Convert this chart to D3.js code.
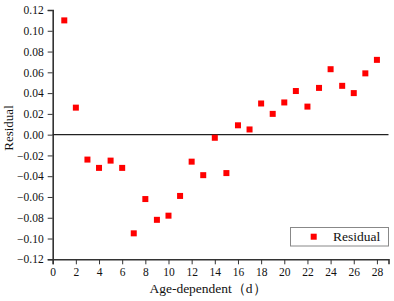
<!DOCTYPE html>
<html>
<head>
<meta charset="utf-8">
<script src="https://cdn.jsdelivr.net/npm/d3@7"></script>
<style>
body { margin: 0; background: #fff; }
svg text { font-family: "Liberation Serif", "Times New Roman", "DejaVu Serif", serif; fill: #111; }
</style>
</head>
<body>
<svg id="chart" width="394" height="301"></svg>
<script>
// age (d) and residual values
var ages = [1, 2, 3, 4, 5, 6, 7, 8, 9, 10, 11, 12, 13, 14, 15, 16, 17, 18, 19, 20, 21, 22, 23, 24, 25, 26, 27, 28];
var residuals = [0.110, 0.026, -0.024, -0.032, -0.025, -0.032, -0.095, -0.062, -0.082, -0.078, -0.059, -0.026,
    -0.039, -0.003, -0.037, 0.009, 0.005, 0.030, 0.020, 0.031, 0.042, 0.027, 0.045, 0.063, 0.047, 0.040, 0.059, 0.072];
var xTicks = [0, 2, 4, 6, 8, 10, 12, 14, 16, 18, 20, 22, 24, 26, 28];
var yTicks = [-0.12, -0.10, -0.08, -0.06, -0.04, -0.02, 0.00, 0.02, 0.04, 0.06, 0.08, 0.10, 0.12];

var data = ages.map((a, i) => ({age: a, res: residuals[i]}));

var serif = "'Liberation Serif', 'Times New Roman', 'DejaVu Serif', serif";

var svg = d3.select("#chart");

var x = d3.scaleLinear().domain([0, 29]).range([52.7, 388.5]);
var y = d3.scaleLinear().domain([-0.12, 0.12]).range([259.3, 10]);

// minor ticks
var xMinor = d3.range(0, 30, 1);
var yMinor = d3.range(-12, 13, 1).map(d => d / 100);

var xAxisG = svg.append("g").attr("transform", `translate(0,${y(-0.12)})`);
xAxisG.call(d3.axisBottom(x).tickValues(xMinor).tickSize(3).tickFormat(""));
xAxisG.call(d3.axisBottom(x).tickValues(xTicks).tickSize(5).tickFormat(d3.format("d")).tickPadding(4));

var yAxisG = svg.append("g").attr("transform", `translate(${x(0)},0)`);
yAxisG.call(d3.axisLeft(y).tickValues(yMinor).tickSize(3).tickFormat(""));
yAxisG.call(d3.axisLeft(y).tickValues(yTicks).tickSize(5).tickFormat(d3.format(".2f")).tickPadding(4));

svg.selectAll("g").attr("font-family", serif);
svg.selectAll(".domain").attr("stroke", "#333").attr("stroke-width", 1.6);
svg.selectAll(".tick line").attr("stroke", "#333").attr("stroke-width", 1);
svg.selectAll(".tick text").attr("font-size", 11.5).attr("fill", "#111");

// zero line
svg.append("line")
    .attr("x1", x(0)).attr("x2", x(29))
    .attr("y1", y(0)).attr("y2", y(0))
    .attr("stroke", "#222").attr("stroke-width", 1.2);

// points
svg.selectAll(".pt")
    .data(data)
  .enter().append("rect")
    .attr("class", "pt")
    .attr("x", d => x(d.age) - 3)
    .attr("y", d => y(d.res) - 3)
    .attr("width", 6).attr("height", 6)
    .attr("fill", "#f00");

// axis titles
svg.append("text")
    .attr("x", 208).attr("y", 293)
    .attr("text-anchor", "middle")
    .attr("font-family", serif)
    .attr("font-size", 13.5)
    .text("Age-dependent（d）");

svg.append("text")
    .attr("transform", "translate(13,128) rotate(-90)")
    .attr("text-anchor", "middle")
    .attr("font-family", serif)
    .attr("font-size", 13)
    .text("Residual");

// legend
var lg = svg.append("g");
lg.append("rect")
    .attr("x", 290.5).attr("y", 227.5).attr("width", 98).attr("height", 18.5)
    .attr("fill", "#fff").attr("stroke", "#888").attr("stroke-width", 1);
lg.append("rect")
    .attr("x", 310.7).attr("y", 233.7).attr("width", 6).attr("height", 6)
    .attr("fill", "#f00");
lg.append("text")
    .attr("x", 333).attr("y", 241)
    .attr("font-family", serif)
    .attr("font-size", 13.5)
    .text("Residual");
</script>
</body>
</html>
